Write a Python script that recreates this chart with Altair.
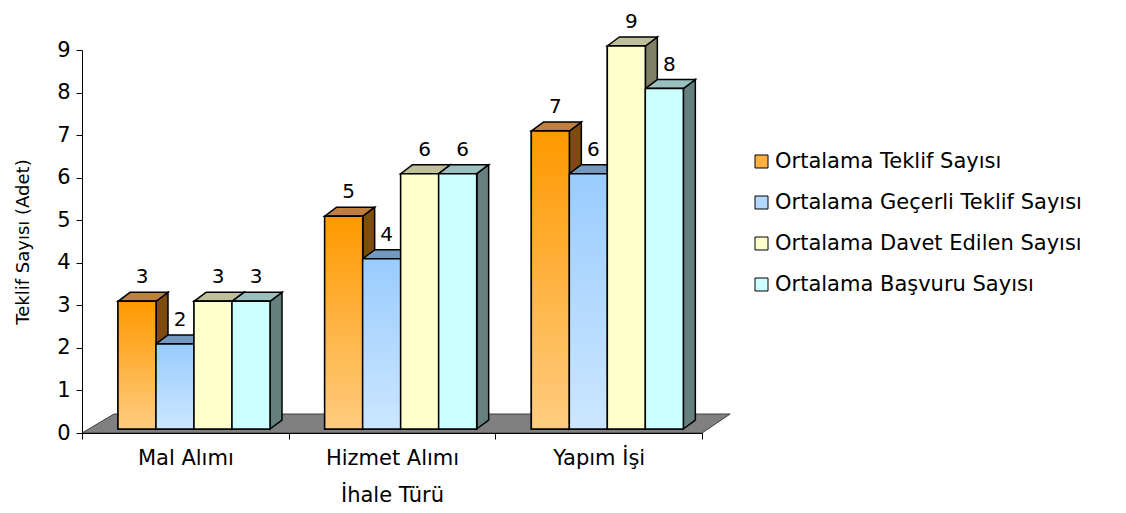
import json
import altair as alt
import pandas as pd

# ---------------- data ----------------
categories = ["Mal Alımı", "Hizmet Alımı", "Yapım İşi"]
series = [
    "Ortalama Teklif Sayısı",
    "Ortalama Geçerli Teklif Sayısı",
    "Ortalama Davet Edilen Sayısı",
    "Ortalama Başvuru Sayısı",
]
teklif = [3, 5, 7]
gecerli = [2, 4, 6]
davet = [3, 6, 9]
basvuru = [3, 6, 8]
y_ticks = [0, 1, 2, 3, 4, 5, 6, 7, 8, 9]

# ---------------- styles ----------------
front_top = ["#FF9900", "#99CCFF", "#FFFFCC", "#CCFFFF"]
front_bottom = ["#FFCC80", "#CCE6FF", "#FFFFCC", "#CCFFFF"]
legend_colors = ["#FFB040", "#B3D7FF", "#FFFFCC", "#CCFFFF"]
top_colors = ["#BF7F3F", "#7399BF", "#BFBF99", "#99BFBF"]
side_colors = ["#7F4C0F", "#4C6680", "#808066", "#668080"]
FONT = "DejaVu Sans"

W, H = 620, 383
ymax = 9
px_x = W / len(categories)
px_y = H / ymax

# pseudo-3D geometry (pixel sizes converted to data units)
bar_w = 38 / px_x
group_start = 36 / px_x
base = 4 / px_y
depth_dx = 12 / px_x
depth_dy = 9 / px_y
floor_dx = 32 / px_x
floor_dy = 19 / px_y

values = [teklif, gecerli, davet, basvuru]
front_rows, side_rows, top_rows, label_rows = [], [], [], []
for g, cat in enumerate(categories):
    for s, name in enumerate(series):
        v = values[s][g]
        l = g + group_start + s * bar_w
        r = l + bar_w
        bid = f"{g}-{s}"
        front_rows.append(dict(bar=bid, series=name, s=s, x=l, x2=r, y=base, y2=base + v))
        side_rows += [
            dict(bar=bid, c=side_colors[s], x=r, y=base, y2=base + v),
            dict(bar=bid, c=side_colors[s], x=r + depth_dx, y=base + depth_dy, y2=base + v + depth_dy),
        ]
        top_rows += [
            dict(bar=bid, c=top_colors[s], y=base + v, x=l, x2=r),
            dict(bar=bid, c=top_colors[s], y=base + v + depth_dy, x=l + depth_dx, x2=r + depth_dx),
        ]
        label_rows.append(dict(x=(l + r) / 2, y=base + v, t=str(v)))

n = len(categories)
floor_rows = [
    dict(y=0, x=0, x2=n),
    dict(y=floor_dy, x=floor_dx, x2=n + floor_dx * 0.88),
]

front_df = pd.DataFrame(front_rows)
side_df = pd.DataFrame(side_rows)
top_df = pd.DataFrame(top_rows)
label_df = pd.DataFrame(label_rows)
floor_df = pd.DataFrame(floor_rows)

xs = alt.Scale(domain=[0, n], nice=False, zero=False)
ys = alt.Scale(domain=[0, ymax], nice=False)

label_expr = json.dumps(categories + [""]) + "[datum.value]"

x_axis = alt.Axis(
    values=list(range(n + 1)),
    labelExpr=label_expr,
    labelOffset=px_x / 2,
    labelFlush=False,
    labelOverlap=False,
    labelBound=False,
    grid=False,
    tickSize=6,
    labelPadding=8,
    labelFontSize=21,
    title="İhale Türü",
    titleFontSize=21,
    titlePadding=16,
    domainColor="black",
    tickColor="black",
    domainWidth=1,
    zindex=1,
)
y_axis = alt.Axis(
    values=y_ticks,
    format="d",
    grid=False,
    tickSize=6,
    labelPadding=6,
    labelFontSize=21,
    title="Teklif Sayısı (Adet)",
    titleFontSize=18,
    titlePadding=24,
    domainColor="black",
    tickColor="black",
    zindex=1,
)

X = lambda f: alt.X(f, scale=xs, axis=x_axis)
Y = lambda f: alt.Y(f, scale=ys, axis=y_axis)

floor = alt.Chart(floor_df).mark_area(
    orient="horizontal", fill="#808080", stroke="#404040", strokeWidth=1
).encode(
    y=Y("y:Q"),
    x=X("x:Q"),
    x2="x2:Q",
)

sides = alt.Chart(side_df).mark_area(
    orient="vertical", stroke="black", strokeWidth=1.5
).encode(
    x=X("x:Q"),
    y=Y("y:Q"),
    y2="y2:Q",
    detail="bar:N",
    fill=alt.Fill("c:N", scale=None),
)

tops = alt.Chart(top_df).mark_area(
    orient="horizontal", stroke="black", strokeWidth=1.5
).encode(
    y=Y("y:Q"),
    x=X("x:Q"),
    x2="x2:Q",
    detail="bar:N",
    fill=alt.Fill("c:N", scale=None),
)

fronts = alt.Chart(front_df).mark_rect(stroke="black", strokeWidth=1.5).encode(
    x=X("x:Q"),
    x2="x2:Q",
    y=Y("y:Q"),
    y2="y2:Q",
    fill=alt.Fill(
        "series:N",
        scale=alt.Scale(domain=series, range=legend_colors),
        legend=alt.Legend(
            title=None,
            orient="none",
            legendX=669,
            legendY=101,
            symbolType="square",
            symbolSize=169,
            symbolStrokeColor="black",
            symbolStrokeWidth=1,
            symbolOpacity=1,
            labelFontSize=21,
            labelLimit=0,
            labelOffset=3,
            rowPadding=19,
            padding=0,
        ),
        sort=series,
    ),
)

grad_layers = []
for s, name in enumerate(series):
    grad = alt.LinearGradient(
        gradient="linear",
        x1=0, y1=0, x2=0, y2=1,
        stops=[
            alt.GradientStop(color=front_top[s], offset=0),
            alt.GradientStop(color=front_bottom[s], offset=1),
        ],
    )
    grad_layers.append(
        alt.Chart(front_df).transform_filter(alt.datum.s == s)
        .mark_rect(fill=grad, stroke="black", strokeWidth=1.5)
        .encode(
            x=X("x:Q"),
            x2="x2:Q",
            y=Y("y:Q"),
            y2="y2:Q",
        )
    )

labels = alt.Chart(label_df).mark_text(
    font=FONT, fontSize=20, dx=5, dy=-24, baseline="middle", color="black"
).encode(
    x=X("x:Q"),
    y=Y("y:Q"),
    text="t:N",
)

chart = alt.layer(floor, sides, tops, fronts, *grad_layers, labels).properties(
    width=W,
    height=H,
    autosize=alt.AutoSizeParams(type="none"),
    padding={"left": 74, "top": 42, "right": 411, "bottom": 72},
).configure_view(stroke=None).configure_axis(
    labelFont=FONT,
    titleFont=FONT,
    titleFontWeight="normal",
    labelColor="black",
    titleColor="black",
).configure_legend(labelFont=FONT, labelColor="black")

chart.save("out.html", embed_options={"renderer": "svg", "actions": False})
